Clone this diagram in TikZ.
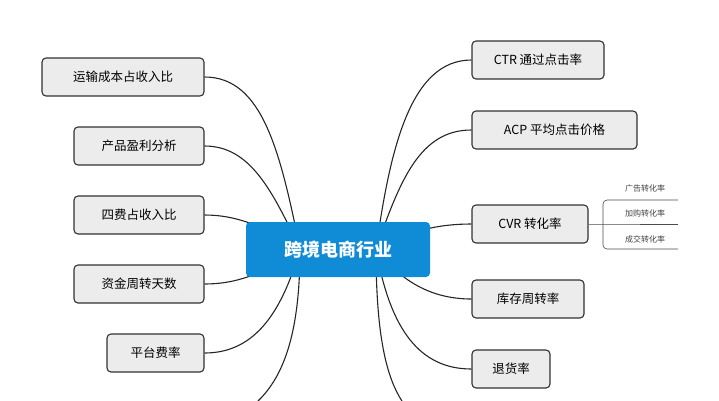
\documentclass[tikz,border=0pt]{standalone}
\usepackage{fontspec}
\setmainfont{Noto Sans CJK SC}
\definecolor{cblue}{RGB}{16,140,214}
\definecolor{nfill}{RGB}{236,236,236}
\definecolor{ndraw}{RGB}{50,50,50}
\begin{document}
\begin{tikzpicture}[x=1pt,y=-1pt,
  topic/.style={draw=ndraw,fill=nfill,line width=1.1pt,rounded corners=4pt,minimum height=38pt,inner xsep=0pt,font=\fontsize{12.5}{14}\selectfont,text=black},
  center/.style={fill=cblue,rounded corners=4pt,minimum width=184pt,minimum height=55pt,text=white,font=\fontsize{18}{20}\selectfont\bfseries},
  con/.style={line width=1.1pt,draw=black!85},
  sub/.style={font=\fontsize{8}{9}\selectfont,text=black!75}]
\useasboundingbox (0,0) rectangle (719,400);
\coordinate (P) at (300,249);
\coordinate (Q) at (376,249);
\node[topic,minimum width=162pt] (l1) at (123,77) {运输成本占收入比};
\node[topic,minimum width=130pt] (l2) at (139,146) {产品盈利分析};
\node[topic,minimum width=130pt] (l3) at (139,215) {四费占收入比};
\node[topic,minimum width=130pt] (l4) at (139,284) {资金周转天数};
\node[topic,minimum width=97pt] (l5) at (155.5,353) {平台费率};
\node[topic,minimum width=132pt] (r1) at (538,60) {CTR 通过点击率};
\node[topic,minimum width=165pt] (r2) at (554.5,130) {ACP 平均点击价格};
\node[topic,minimum width=116pt] (r3) at (530,224) {CVR 转化率};
\node[topic,minimum width=112pt] (r4) at (528,299) {库存周转率};
\node[topic,minimum width=78pt] (r5) at (511,369) {退货率};
\coordinate (bl) at (258,401);
\coordinate (br) at (402,401);
\begin{scope}[on background layer/.try]
\draw[con] (P) .. controls (280,150) and (262,77) .. (l1.east);
\draw[con] (P) .. controls (272,190) and (250,146) .. (l2.east);
\draw[con] (P) .. controls (262,225) and (235,215) .. (l3.east);
\draw[con] (P) .. controls (262,275) and (235,284) .. (l4.east);
\draw[con] (P) .. controls (280,320) and (250,353) .. (l5.east);
\draw[con] (P) .. controls (300,330) and (285,375) .. (bl);
\draw[con] (Q) .. controls (390,150) and (410,60) .. (r1.west);
\draw[con] (Q) .. controls (400,180) and (420,130) .. (r2.west);
\draw[con] (Q) .. controls (410,230) and (440,224) .. (r3.west);
\draw[con] (Q) .. controls (400,280) and (430,299) .. (r4.west);
\draw[con] (Q) .. controls (390,330) and (420,369) .. (r5.west);
\draw[con] (Q) .. controls (376,330) and (385,375) .. (br);
\end{scope}
\node[center] (c) at (338,249.5) {跨境电商行业};
\coordinate (k) at (603,224);
\draw[line width=0.6pt,draw=black!70] (r3.east) -- (k) -- (678,224);
\draw[line width=0.6pt,draw=black!70,rounded corners=4pt] (678,200) -- (603,200) -- (603,249) -- (678,249);
\node[sub] (s1) at (645,188) {广告转化率};
\node[sub] (s2) at (645,213) {加购转化率};
\node[sub] (s3) at (645,239) {成交转化率};
\end{tikzpicture}
\end{document}
